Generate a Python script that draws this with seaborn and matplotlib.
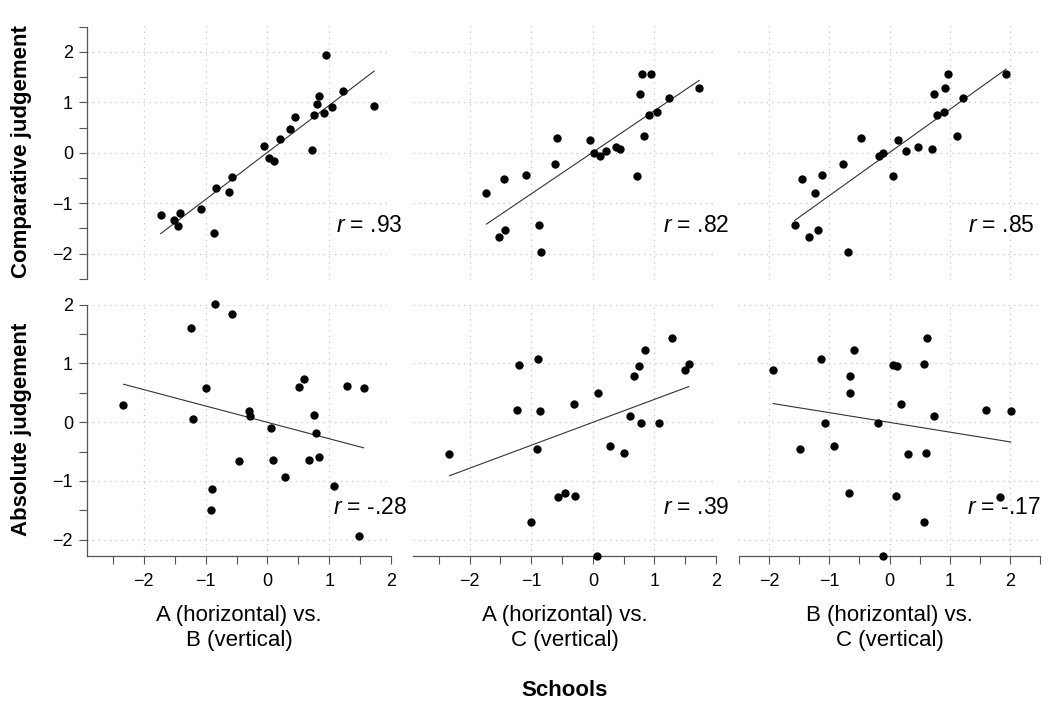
import matplotlib
matplotlib.use("Agg")
import matplotlib.pyplot as plt
import seaborn as sns
import pandas as pd
from matplotlib.ticker import MultipleLocator

# ---------------- data (24 schools, standardised scores) ----------------
A_comp = [-1.73, -1.52, -1.45, -1.42, -1.08, -0.87, -0.84, -0.62, -0.58, -0.05, 0.02, 0.11,
          0.21, 0.37, 0.44, 0.72, 0.76, 0.80, 0.83, 0.91, 0.95, 1.04, 1.23, 1.73]
B_comp = [-1.24, -1.34, -1.46, -1.19, -1.12, -1.58, -0.69, -0.77, -0.48, 0.14, -0.10, -0.17,
          0.28, 0.48, 0.70, 0.06, 0.74, 0.97, 1.13, 0.79, 1.94, 0.91, 1.22, 0.92]
C_comp = [-0.80, -1.66, -0.52, -1.52, -0.44, -1.44, -1.97, -0.22, 0.30, 0.26, -0.01, -0.07,
          0.03, 0.12, 0.07, -0.47, 1.16, 1.56, 0.34, 0.75, 1.56, 0.81, 1.08, 1.29]

A_abs = [-2.33, -1.23, -1.20, -1.00, -0.91, -0.89, -0.85, -0.57, -0.46, -0.30, -0.29, 0.06,
         0.09, 0.28, 0.51, 0.60, 0.67, 0.75, 0.78, 0.84, 1.08, 1.29, 1.49, 1.56]
B_abs = [0.30, 1.60, 0.06, 0.58, -1.49, -1.14, 2.02, 1.84, -0.67, 0.19, 0.10, -0.10,
         -0.65, -0.93, 0.60, 0.74, -0.65, 0.13, -0.19, -0.59, -1.08, 0.62, -1.94, 0.58]
C_abs = [-0.55, 0.21, 0.97, -1.70, -0.46, 1.07, 0.19, -1.28, -1.20, 0.31, -1.26, -2.28,
         0.49, -0.41, -0.53, 0.10, 0.78, 0.95, -0.02, 1.23, -0.01, 1.44, 0.89, 0.99]

row_labels = ["Comparative judgement", "Absolute judgement"]
col_labels = ["A (horizontal) vs.\nB (vertical)",
              "A (horizontal) vs.\nC (vertical)",
              "B (horizontal) vs.\nC (vertical)"]
r_labels = [[".93", ".82", ".85"], ["-.28", ".39", "-.17"]]
x_title = "Schools"

panels = [[(A_comp, B_comp), (A_comp, C_comp), (B_comp, C_comp)],
          [(A_abs, B_abs), (A_abs, C_abs), (B_abs, C_abs)]]

# ---------------- style ----------------
sns.set_theme(style="white")
plt.rcParams['font.family'] = ['Liberation Sans', 'DejaVu Sans']
plt.rcParams['text.color'] = 'black'
plt.rcParams['axes.labelcolor'] = 'black'
plt.rcParams['mathtext.fontset'] = 'custom'
plt.rcParams['mathtext.it'] = 'Liberation Sans:italic'
plt.rcParams['mathtext.rm'] = 'Liberation Sans'

W, H = 1050, 701
fig = plt.figure(figsize=(W / 100, H / 100), dpi=100)
fig.patch.set_facecolor('white')

col_px = [(87, 391), (413, 716), (738, 1041)]
row_px = [(25, 280), (303, 556)]
xlims = [(-2.92, 2.0), (-2.92, 2.0), (-2.52, 2.52)]
ylims = [(-2.52, 2.53), (-2.28, 2.03)]
text_px = [[(336, 232), (663, 232), (968, 232)],
           [(333, 514), (663, 514), (967, 514)]]

spine_col = '#555555'
for r in range(2):
    for c in range(3):
        x0, x1 = col_px[c]
        y0, y1 = row_px[r]
        ax = fig.add_axes([x0 / W, 1 - y1 / H, (x1 - x0) / W, (y1 - y0) / H])
        xs, ys = panels[r][c]
        df = pd.DataFrame({'x': xs, 'y': ys})
        sns.regplot(data=df, x='x', y='y', ax=ax, ci=None,
                    scatter_kws=dict(s=36, color='black', linewidths=0, clip_on=False, zorder=3, alpha=1),
                    line_kws=dict(color='#333333', lw=0.8, zorder=2))
        ax.set_xlim(*xlims[c])
        ax.set_ylim(*ylims[r])
        ax.set_xlabel('')
        ax.set_ylabel('')
        ax.xaxis.set_major_locator(MultipleLocator(1))
        ax.xaxis.set_minor_locator(MultipleLocator(0.5))
        ax.yaxis.set_major_locator(MultipleLocator(1))
        ax.yaxis.set_minor_locator(MultipleLocator(0.5))
        ax.set_axisbelow(True)
        ax.grid(True, which='major', color='#c4c4c4', linestyle=(0, (1, 3.5)), linewidth=0.9)
        ax.grid(False, which='minor')
        for s in ax.spines.values():
            s.set_visible(False)
        ax.tick_params(which='both', direction='out', length=6, width=0.8,
                       color=spine_col, labelsize=13, pad=4, labelcolor='black',
                       bottom=True, left=True)
        if r == 0:
            ax.tick_params(axis='x', which='both', bottom=False, labelbottom=False)
        else:
            ax.spines['bottom'].set_visible(True)
            ax.spines['bottom'].set_color(spine_col)
            ax.spines['bottom'].set_linewidth(0.9)
            if c == 2:
                ax.spines['bottom'].set_bounds(-2.5, 2.5)
            ax.tick_params(axis='x', which='both', pad=6)
        if c == 0:
            ax.spines['left'].set_visible(True)
            ax.spines['left'].set_color(spine_col)
            ax.spines['left'].set_linewidth(0.9)
            if r == 0:
                ax.spines['left'].set_bounds(-2.5, 2.5)
            else:
                ax.spines['left'].set_bounds(ylims[1][0], 2.0)
        else:
            ax.tick_params(axis='y', which='both', left=False, labelleft=False)

        tx, ty = text_px[r][c]
        fig.text(tx / W, 1 - ty / H, "$r$ = " + r_labels[r][c], fontsize=16.5,
                 ha='left', va='baseline', color='black')

# row titles
fig.text(22 / W, 1 - 152 / H, row_labels[0], rotation=90, fontsize=16,
         fontweight='bold', ha='center', va='center', color='black')
fig.text(22 / W, 1 - 429 / H, row_labels[1], rotation=90, fontsize=16,
         fontweight='bold', ha='center', va='center', color='black')

# column titles
for c in range(3):
    cx = (col_px[c][0] + col_px[c][1]) / 2
    fig.text(cx / W, 1 - 628 / H, col_labels[c], fontsize=16, ha='center',
             va='center', linespacing=1.3, color='black')

fig.text(564.5 / W, 1 - 690 / H, x_title, fontsize=16, fontweight='bold',
         ha='center', va='center', color='black')

fig.savefig('out.png', dpi=100, facecolor='white')
